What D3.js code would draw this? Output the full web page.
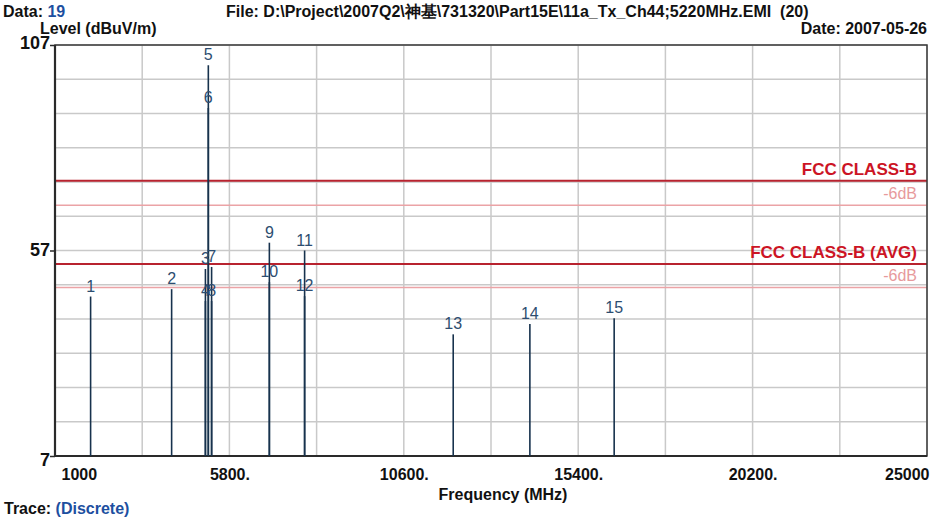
<!DOCTYPE html>
<html><head><meta charset="utf-8">
<script src="https://cdn.jsdelivr.net/npm/d3@7/dist/d3.min.js"></script>
<style>
body{margin:0;background:#fff;}
svg text{font-family:"Liberation Sans Narrow","Arial Narrow","Liberation Sans",sans-serif;}
</style></head>
<body><svg id="c" width="942" height="519"></svg>
<script>
// ---- data ----
const markerIds   = ["1","2","3","4","5","6","7","8","9","10","11","12","13","14","15"];
const markerFreq  = [1980,4210,5140,5140,5220,5220,5310,5310,6900,6900,7870,7870,11960,14070,16390];
const markerLevel = [45.8,47.6,52.5,44.7,102.1,91.7,53.0,44.7,58.9,49.3,57.0,45.9,36.6,39.1,40.5];
const limitNames  = ["FCC CLASS-B","-6dB","FCC CLASS-B (AVG)","-6dB"];
const limitLevels = [74,68,53.7,48];
const limitMain   = [true,false,true,false];
const xTickValues = [1000,5800,10600,15400,20200,25000];
const xTickLabels = ["1000","5800.","10600.","15400.","20200.","25000"];
const yTickValues = [7,57,107];

const svg = d3.select("#c");
const L=55,R=927,T=45,B=456;
const x = d3.scaleLinear().domain([1000,25000]).range([L,R]);
const y = d3.scaleLinear().domain([7,107]).range([B,T]);

// grid
const g = svg.append("g");
g.selectAll(".vg").data(d3.range(1000,25001,2400)).join("line")
  .attr("x1",d=>x(d)).attr("x2",d=>x(d)).attr("y1",T).attr("y2",B)
  .attr("stroke","#c9c9c9").attr("stroke-width",1.5);
g.selectAll(".hg").data(d3.range(0,13).map(i=>7+i*100/12)).join("line")
  .attr("x1",L).attr("x2",R).attr("y1",d=>y(d)).attr("y2",d=>y(d))
  .attr("stroke","#c9c9c9").attr("stroke-width",1.5);

// limit lines
limitLevels.forEach((v,i)=>{
  svg.append("line").attr("x1",L).attr("x2",R).attr("y1",y(v)).attr("y2",y(v))
    .attr("stroke",limitMain[i]?"#b8232f":"#eba3a6").attr("stroke-width",limitMain[i]?2:1.6);
  svg.append("text").attr("x",917).attr("y",y(v)-6).attr("text-anchor","end")
    .attr("font-size",limitMain[i]?17:16).attr("font-weight",limitMain[i]?"bold":"normal")
    .attr("fill",limitMain[i]?"#cc1424":"#e79a9c").text(limitNames[i]);
});

// frame
svg.append("rect").attr("x",L).attr("y",T).attr("width",R-L).attr("height",B-T)
  .attr("fill","none").attr("stroke","#3a3a3a").attr("stroke-width",1.5);
svg.append("line").attr("x1",L).attr("x2",L).attr("y1",T).attr("y2",B).attr("stroke","#2a2a2a").attr("stroke-width",2.2);
svg.append("line").attr("x1",L).attr("x2",R).attr("y1",B).attr("y2",B).attr("stroke","#2a2a2a").attr("stroke-width",2.2);

// markers
const idx = d3.range(markerIds.length);
svg.selectAll(".mk").data(idx).join("line")
  .attr("x1",i=>x(markerFreq[i])).attr("x2",i=>x(markerFreq[i]))
  .attr("y1",B).attr("y2",i=>y(markerLevel[i]))
  .attr("stroke","#17324d").attr("stroke-width",1.6);
svg.selectAll(".ml").data(idx).join("text")
  .attr("x",i=>x(markerFreq[i])).attr("y",i=>y(markerLevel[i])-5)
  .attr("text-anchor","middle").attr("font-size",16)
  .style("font-family","'Liberation Sans',Arial,sans-serif")
  .attr("fill","#2d4d70").text(i=>markerIds[i]);

// x axis labels
const xa = svg.append("g").attr("transform",`translate(0,${B})`)
  .call(d3.axisBottom(x).tickValues(xTickValues).tickSize(0).tickFormat((d,i)=>xTickLabels[i]));
xa.select(".domain").remove();
xa.selectAll("text").attr("font-size",16).attr("font-weight","bold").attr("fill","#111")
  .attr("dy",0).attr("y",24)
  .style("font-family","'Liberation Sans Narrow','Liberation Sans',sans-serif")
  .attr("text-anchor",(d,i)=>i===0?"start":(i===xTickValues.length-1?"end":"middle"))
  .attr("x",(d,i)=>i===0?6:(i===xTickValues.length-1?2:0));

// y axis labels
const ya = svg.append("g").attr("transform",`translate(${L},0)`)
  .call(d3.axisLeft(y).tickValues(yTickValues).tickSize(5).tickFormat(d3.format("d")));
ya.select(".domain").remove();
ya.selectAll("line").attr("stroke","#2a2a2a").attr("stroke-width",1.5);
ya.selectAll("text").attr("font-size",18).attr("font-weight","bold").attr("fill","#111")
  .attr("x",-5).attr("dy",(d)=>d===7?"0.55em":(d===107?"0.2em":"0.3em"))
  .style("font-family","'Liberation Sans Narrow','Liberation Sans',sans-serif");

// header / footer texts
const t1 = svg.append("text").attr("x",3).attr("y",17).attr("font-size",16).attr("font-weight","bold").attr("fill","#111");
t1.append("tspan").text("Data: ");
t1.append("tspan").attr("fill","#1d4fa0").text("19");
svg.append("text").attr("x",226).attr("y",17).attr("font-size",16).attr("font-weight","bold").attr("fill","#111")
  .text("File: D:\\Project\\2007Q2\\神基\\731320\\Part15E\\11a_Tx_Ch44;5220MHz.EMI  (20)")
  .attr("xml:space","preserve").style("white-space","pre");
svg.append("text").attr("x",40).attr("y",34).attr("font-size",16).attr("font-weight","bold").attr("fill","#111").text("Level (dBuV/m)");
svg.append("text").attr("x",927).attr("y",34).attr("text-anchor","end").attr("font-size",16).attr("font-weight","bold").attr("fill","#111").text("Date: 2007-05-26");
svg.append("text").attr("x",503).attr("y",500).attr("text-anchor","middle").attr("font-size",16).attr("font-weight","bold").attr("fill","#111").text("Frequency (MHz)");
const t2 = svg.append("text").attr("x",4).attr("y",514).attr("font-size",16).attr("font-weight","bold").attr("fill","#111");
t2.append("tspan").text("Trace: ");
t2.append("tspan").attr("fill","#1d4fa0").text("(Discrete)");
</script></body></html>
